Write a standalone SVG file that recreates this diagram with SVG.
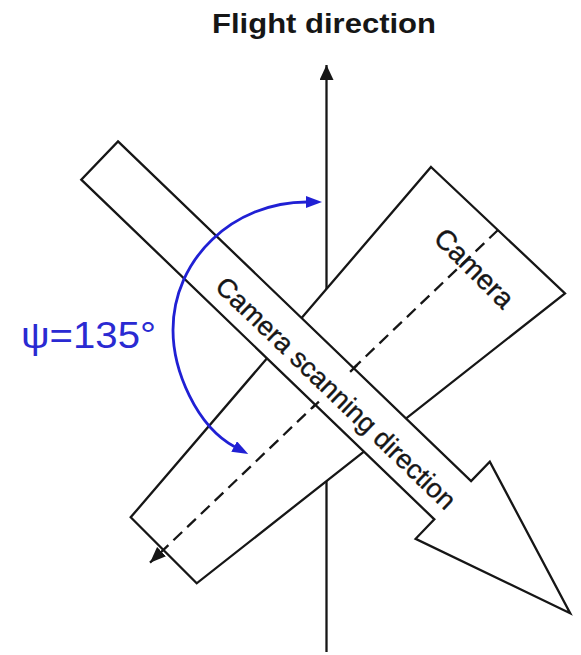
<svg xmlns="http://www.w3.org/2000/svg" width="581" height="655" viewBox="0 0 581 655">
<style>
.edge{fill:#fff;stroke:#161616;stroke-width:2.3;stroke-linejoin:miter}
.line{fill:none;stroke:#161616;stroke-width:2.3}
.lbl{font-family:"Liberation Sans",Arial,sans-serif;fill:#161616}
.heavy{stroke:#161616;stroke-width:0.35}
.blue{fill:#2a2ad2}
</style>
<defs>
<marker id="ah-black" markerUnits="userSpaceOnUse" viewBox="0 0 15 14" refX="15" refY="7" markerWidth="15" markerHeight="14" orient="auto"><path d="M0,0 L15,7 L0,14 z" fill="#161616"/></marker>
<marker id="ah-black-s" markerUnits="userSpaceOnUse" viewBox="0 0 16 13" refX="16" refY="6.5" markerWidth="16" markerHeight="13" orient="auto"><path d="M0,0 L16,6.5 L0,13 z" fill="#161616"/></marker>
<marker id="ah-blue" markerUnits="userSpaceOnUse" viewBox="0 0 16 12" refX="1" refY="6" markerWidth="16" markerHeight="12" orient="auto-start-reverse"><path d="M0,0 L16,6 L0,12 z" fill="#2020d4"/></marker>
</defs>
<rect width="581" height="655" fill="#fff"/>
<text id="title" class="lbl" x="324" y="33" font-size="28" font-weight="bold" text-anchor="middle" textLength="224" lengthAdjust="spacingAndGlyphs">Flight direction</text>
<g id="connectors-under">
<path id="flight-axis" class="line" d="M326.5,652 L326.5,65" marker-end="url(#ah-black)"/>
</g>
<g id="camera">
<polygon class="edge" points="431,167 565,293.3 196.7,583.3 130.7,517.3"/>
<path id="camera-axis" class="line" d="M498,230 L150,562.7" stroke-width="2.6" stroke-dasharray="12 7" marker-end="url(#ah-black-s)"/>
<text class="lbl heavy" font-size="28" text-anchor="middle" transform="translate(473.5,269) rotate(45)" x="0" y="8.5">Camera</text>
</g>
<g id="scan-band" transform="translate(99.65,160.5) rotate(43.9)">
<polygon class="edge" points="0,-26.5 490,-26.5 490,-53.5 653,0 490,53.5 490,26.5 0,26.5"/>
<text class="lbl heavy" font-size="27" text-anchor="middle" x="331.5" y="13">Camera scanning direction</text>
</g>
<g id="axis-ticks">
<path class="line" d="M350.1,371.8 L357.3,364.9 M311.7,408.5 L318.9,401.6"/>
</g>
<g id="connectors">
<path id="angle-arc" d="M307,202 C233,202 173,259.3 173,330 C173,370 196,426 235,447" fill="none" stroke="#2020d4" stroke-width="2.8" marker-start="url(#ah-blue)" marker-end="url(#ah-blue)"/>
</g>
<g id="angle-label">
<text class="lbl blue" x="21" y="348" font-size="37" textLength="135" lengthAdjust="spacingAndGlyphs">ψ=135°</text>
</g>
</svg>
